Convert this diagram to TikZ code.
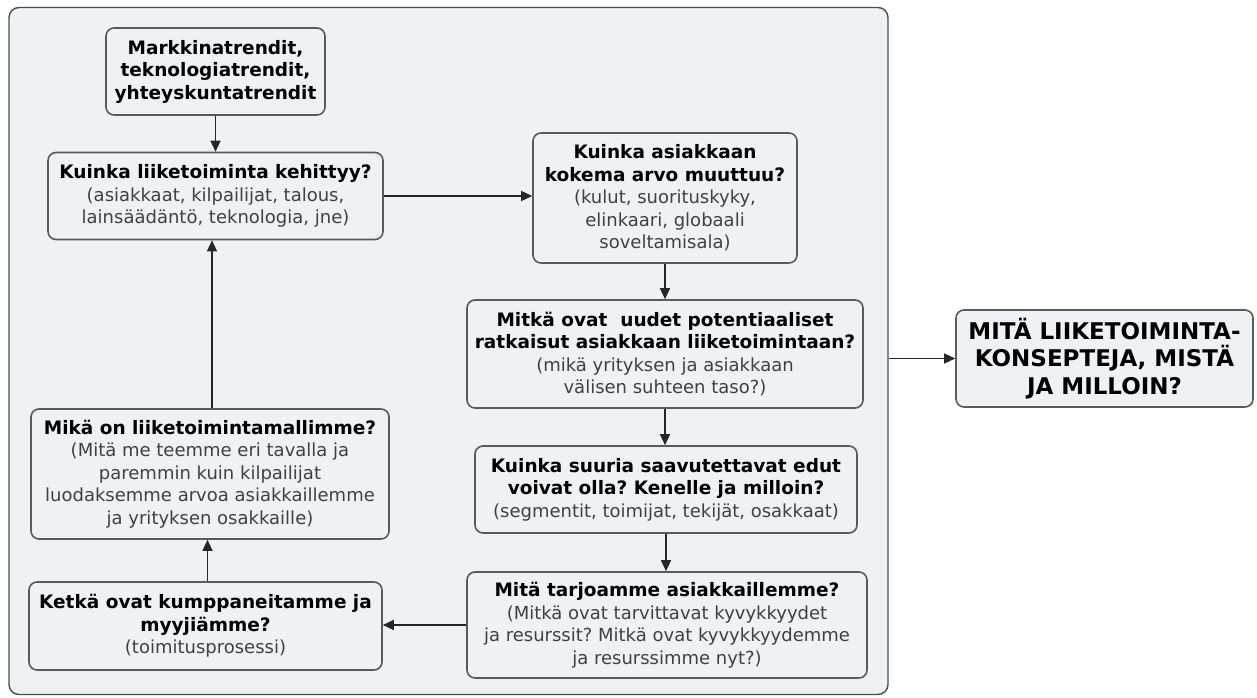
\documentclass[tikz,border=0pt]{standalone}
\usepackage{fontspec}
\setmainfont{DejaVu Sans}
\usetikzlibrary{arrows.meta,calc}
\definecolor{panelfill}{HTML}{EEF2F5}
\definecolor{boxline}{HTML}{5A5A5A}
\definecolor{subtext}{HTML}{404040}
\newcommand{\hd}[1]{{\bfseries #1}}
\newcommand{\sub}[1]{{\fontsize{18}{22.5}\selectfont\color{subtext}#1}}
\tikzset{
  x=1pt, y=-1pt,
  qbox/.style={draw=boxline, line width=1.6pt, rounded corners=8pt, fill=panelfill,
    align=center, inner sep=0pt, font=\fontsize{18.5}{22.5}\selectfont\frenchspacing},
  flow/.style={line width=1.3pt, draw=black!85, -{Triangle[length=11pt,width=10pt]}},
}
\begin{document}
\begin{tikzpicture}
\useasboundingbox (0,0) rectangle (1257,698);
% outer panel
\node[draw=black!70, line width=1.4pt, rounded corners=10pt, fill=panelfill,
      minimum width=879pt, minimum height=687pt, inner sep=0pt] (panel) at (448.5,351) {};

\node[qbox, minimum width=219pt, minimum height=87pt] (trend) at (215.5,71.5)
  {\hd{Markkinatrendit,}\\\hd{teknologiatrendit,}\\\hd{yhteyskuntatrendit}};
\node[qbox, minimum width=335pt, minimum height=87pt] (kehitys) at (215.5,196)
  {\hd{Kuinka liiketoiminta kehittyy?}\\\sub{(asiakkaat, kilpailijat, talous,}\\\sub{lainsäädäntö, teknologia, jne)}};
\node[qbox, minimum width=264pt, minimum height=130pt] (arvo) at (665,198)
  {\hd{Kuinka asiakkaan}\\\hd{kokema arvo muuttuu?}\\\sub{(kulut, suorituskyky,}\\\sub{elinkaari, globaali}\\\sub{soveltamisala)}};
\node[qbox, minimum width=396pt, minimum height=108pt] (ratkaisu) at (665,354)
  {\hd{Mitkä ovat\ \ uudet potentiaaliset}\\\hd{ratkaisut asiakkaan liiketoimintaan?}\\\sub{(mikä yrityksen ja asiakkaan}\\\sub{välisen suhteen taso?)}};
\node[qbox, minimum width=382pt, minimum height=87pt] (edut) at (666,489.5)
  {\hd{Kuinka suuria saavutettavat edut}\\\hd{voivat olla? Kenelle ja milloin?}\\\sub{(segmentit, toimijat, tekijät, osakkaat)}};
\node[qbox, minimum width=400pt, minimum height=106pt] (tarjous) at (667,625)
  {\hd{Mitä tarjoamme asiakkaillemme?}\\\sub{(Mitkä ovat tarvittavat kyvykkyydet}\\\sub{ja resurssit? Mitkä ovat kyvykkyydemme}\\\sub{ja resurssimme nyt?)}};
\node[qbox, minimum width=353pt, minimum height=88pt] (kumppanit) at (205.5,626)
  {\hd{Ketkä ovat kumppaneitamme ja}\\\hd{myyjiämme?}\\\sub{(toimitusprosessi)}};
\node[qbox, minimum width=358pt, minimum height=130pt] (malli) at (210,474)
  {\hd{Mikä on liiketoimintamallimme?}\\\sub{(Mitä me teemme eri tavalla ja}\\\sub{paremmin kuin kilpailijat}\\\sub{luodaksemme arvoa asiakkaillemme}\\\sub{ja yrityksen osakkaille)}};
\node[qbox, minimum width=297pt, minimum height=97pt, font=\fontsize{23}{27.5}\selectfont] (konseptit) at (1104.5,358.5)
  {\hd{MITÄ LIIKETOIMINTA-}\\\hd{KONSEPTEJA, MISTÄ}\\\hd{JA MILLOIN?}};

% connectors
\draw[flow] (trend.south) -- (kehitys.north);
\draw[flow] (kehitys.east) -- (kehitys.east -| arvo.west);
\draw[flow] (arvo.south) -- (ratkaisu.north);
\draw[flow] (ratkaisu.south) -- (ratkaisu.south |- edut.north);
\draw[flow] (edut.south) -- (edut.south |- tarjous.north);
\draw[flow] (tarjous.west) -- (tarjous.west -| kumppanit.east);
\draw[flow] (kumppanit.north) ++(2,0) coordinate (kn) -- (kn |- malli.south);
\draw[flow] (malli.north) ++(2,0) coordinate (mn) -- (mn |- kehitys.south);
\draw[flow] (panel.east |- konseptit.west) -- (konseptit.west);
\end{tikzpicture}
\end{document}
